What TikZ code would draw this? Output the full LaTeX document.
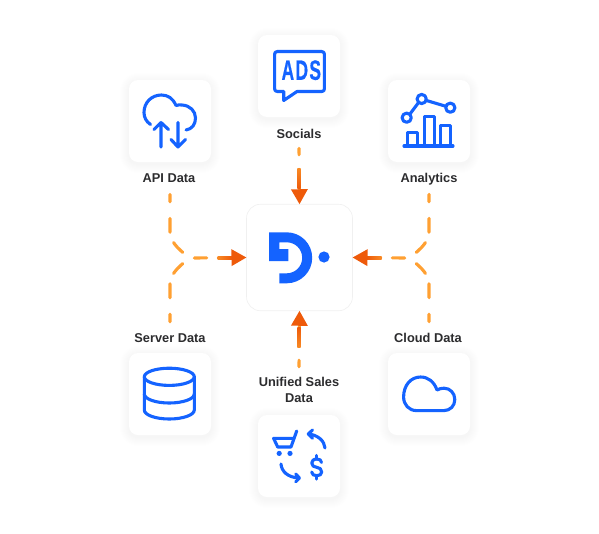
\documentclass[tikz,border=0pt]{standalone}
\usepackage{graphicx}
\usepackage{fontspec}
\setmainfont{Liberation Sans}
\newfontfamily\adsfont[FakeBold=0.6]{Liberation Sans Bold}
\usetikzlibrary{arrows.meta,calc}
\definecolor{iconblue}{HTML}{1463FF}
\definecolor{flowlight}{HTML}{FFA032}
\definecolor{flowmid}{HTML}{F88A24}
\definecolor{flowdark}{HTML}{EE5A0A}
\definecolor{labelink}{HTML}{2C2C2E}
\newcommand{\softshadow}[1]{%
  \foreach \r in {1,...,9}{%
    \fill[black,opacity=.0035,rounded corners=9pt+\r pt] ($(#1)+(-41-\r,-41-\r+2)$) rectangle ($(#1)+(41+\r,41+\r+2)$);
  }%
}
\tikzset{
  card/.style={fill=white,rounded corners=9pt,minimum width=82pt,minimum height=82pt,inner sep=0pt,outer sep=0pt},
  hubcard/.style={fill=white,draw=black!6,line width=.6pt,rounded corners=14pt,minimum width=106pt,minimum height=106.5pt,inner sep=0pt,outer sep=0pt},
  tag/.style={text=labelink,font=\fontsize{12.8}{16}\selectfont\bfseries,align=center,inner sep=0pt,anchor=base},
  icon/.style={draw=iconblue,line width=3.1pt,line cap=round,line join=round},
  flow/.style={draw=flowlight,line width=3.1pt,line cap=round},
  headtip/.style={-{Triangle[length=15pt,width=16pt,color=flowdark]}},
  branchdash/.style={dash pattern=on 7.5pt off 16.5pt on 14pt off 11pt on 13.5pt off 99pt},
}
\begin{document}
\begin{tikzpicture}[x=1pt,y=-1pt]
\useasboundingbox (0,0) rectangle (599,533);
\fill[white] (0,0) rectangle (599,533);
% positions
\coordinate (capi) at (170,121);
\coordinate (csoc) at (299,76);
\coordinate (cana) at (429,121);
\coordinate (csrv) at (170,394);
\coordinate (ccld) at (429,394);
\coordinate (cuni) at (299,456);
\softshadow{capi}\softshadow{csoc}\softshadow{cana}\softshadow{csrv}\softshadow{ccld}\softshadow{cuni}
% cards
\node[hubcard] (hub) at (299.5,257.5) {};
\node[card] (api) at (capi) {};
\node[card] (soc) at (csoc) {};
\node[card] (ana) at (cana) {};
\node[card] (srv) at (csrv) {};
\node[card] (cld) at (ccld) {};
\node[card] (uni) at (cuni) {};
% labels
\node[tag] (tapi) at (169,182) {API Data};
\node[tag] (tsoc) at (299,138) {Socials};
\node[tag] (tana) at (429,182) {Analytics};
\node[tag] (tsrv) at (170,342) {Server Data};
\node[tag] (tcld) at (428,342) {Cloud Data};
\node[tag,anchor=center] (tuni) at (299,390) {Unified Sales\\Data};
% connector anchors
\coordinate (s1) at (170,194.3);
\coordinate (s1b) at (170,232);
\coordinate (s2) at (170,321.7);
\coordinate (s2b) at (170,284);
\coordinate (j1) at (190,258);
\coordinate (h1) at (194.3,258);
\coordinate (s3) at (429,194.3);
\coordinate (s3b) at (429,232);
\coordinate (s4) at (429,321.7);
\coordinate (s4b) at (429,284);
\coordinate (j2) at (409,258);
\coordinate (h2) at (404.7,258);
\coordinate (s5) at (299,148.3);
\coordinate (s6) at (299,366.7);
% connectors
\draw[flow,branchdash] (s1) -- (s1b) .. controls (170,240) and (176,248) .. (j1);
\draw[flow,branchdash] (s2) -- (s2b) .. controls (170,276) and (176,268) .. (j1);
\draw[flow,branchdash] (s3) -- (s3b) .. controls (429,240) and (423,248) .. (j2);
\draw[flow,branchdash] (s4) -- (s4b) .. controls (429,276) and (423,268) .. (j2);
\draw[flow,headtip,dash pattern=on 12.5pt off 11.5pt on 60pt] (h1) -- (hub.west);
\draw[flow,headtip,dash pattern=on 12.5pt off 11.5pt on 60pt] (h2) -- (hub.east);
\draw[flow,headtip,dash pattern=on 6.5pt off 14.5pt on 60pt] (s5) -- (hub.north);
\draw[flow,headtip,dash pattern=on 6.5pt off 14.5pt on 60pt] (s6) -- (hub.south);
% gradient on the dashes nearest the heads
\shade[left color=flowmid,right color=flowdark] (217.5,256.45) rectangle (232,259.55);
\shade[right color=flowmid,left color=flowdark] (367,256.45) rectangle (381.5,259.55);
\shade[top color=flowmid,bottom color=flowdark] (297.45,168) rectangle (300.55,188.5);
\shade[bottom color=flowmid,top color=flowdark] (297.45,327) rectangle (300.55,347.5);
% centre logo
\fill[iconblue] (269,232.3) -- (286.7,232.3)
  .. controls (300.8,232.3) and (312.2,243.7) .. (312.2,257.8)
  .. controls (312.2,271.9) and (300.8,283.3) .. (286.7,283.3)
  -- (279.3,283.3) -- (279.3,273.3) -- (286.7,273.3)
  .. controls (295.3,273.3) and (302.2,266.4) .. (302.2,257.8)
  .. controls (302.2,249.2) and (295.3,242.3) .. (286.7,242.3)
  -- (279.3,242.3) -- (279.3,249) -- (288.3,249) -- (288.3,261) -- (269,261) -- cycle;
\fill[iconblue] (324,257) circle[radius=5.6pt];
% API icon
\draw[icon] (150.5,124.5) .. controls (146,121.5) and (144,117) .. (144,112.5)
  .. controls (144,102.5) and (151.5,95) .. (161.5,95)
  .. controls (168,95) and (173,98.5) .. (176,105.5)
  .. controls (178,105) and (180,104.5) .. (182,105)
  .. controls (190,105.5) and (195.5,111) .. (195.5,118)
  .. controls (195.5,124.5) and (192,129) .. (186,130);
\draw[icon] (161,147) -- (161,122.5) (154,129.5) -- (161,122.5) -- (168.5,129.5);
\draw[icon] (178,122.5) -- (178,147) (171,139.5) -- (178,147) -- (185.5,139.5);
% ADS icon
\draw[icon] (277.5,51.5) -- (321.5,51.5) .. controls (323.5,51.5) and (324.4,52.5) .. (324.4,54.3)
  -- (324.4,88.7) .. controls (324.4,90.7) and (323.5,91.5) .. (321.5,91.5)
  -- (297,91.5) -- (283.7,100.5) -- (283.7,91.5) -- (277.5,91.5)
  .. controls (275.5,91.5) and (274.6,90.7) .. (274.6,88.7)
  -- (274.6,54.3) .. controls (274.6,52.5) and (275.5,51.5) .. (277.5,51.5) -- cycle;
\node[text=iconblue,font=\fontsize{28}{28}\adsfont,inner sep=0pt] (adstxt) at (301.3,70.2) {\scalebox{.62}[1]{A\kern2.2pt D\kern2.2pt S}};
% Analytics icon
\draw[icon] (404,146) -- (453,146);
\draw[icon,line cap=butt] (407.5,146) -- (407.5,132.5) -- (417.2,132.5) -- (417.2,146);
\draw[icon,line cap=butt] (424.8,146) -- (424.8,116.5) -- (434.6,116.5) -- (434.6,146);
\draw[icon,line cap=butt] (440.8,146) -- (440.8,125.5) -- (450.6,125.5) -- (450.6,146);
\draw[icon] (406.7,117.7) circle[radius=4.6pt] (421.7,99) circle[radius=4.6pt] (450.3,107.7) circle[radius=4.6pt];
\draw[icon] (409.8,114.2) -- (418.6,102.5) (426.1,100.4) -- (445.9,106.3);
% Server icon
\draw[icon] (169.3,376.8) ellipse[x radius=25pt,y radius=8.6pt];
\draw[icon] (144.3,376.8) -- (144.3,410) .. controls (144.3,415) and (155.5,419) .. (169.3,419)
  .. controls (183,419) and (194.3,415) .. (194.3,410) -- (194.3,376.8);
\draw[icon] (144.3,394) .. controls (144.3,399) and (155.5,403) .. (169.3,403)
  .. controls (183,403) and (194.3,399) .. (194.3,394);
% Cloud icon
\draw[icon] (416.5,410.6) .. controls (409,410.6) and (403.6,404.8) .. (403.6,397)
  .. controls (403.6,385) and (411,377) .. (420.5,377)
  .. controls (428,377) and (434,381.5) .. (437,390)
  .. controls (439,388.8) and (441.5,388.2) .. (444,388.2)
  .. controls (450,388.2) and (454.8,393) .. (454.8,399.5)
  .. controls (454.8,406) and (450,410.6) .. (444,410.6) -- cycle;
% Unified sales icon
\draw[icon] (296.7,431) -- (291,447) -- (277.7,447) -- (273.6,438.3) -- (293.5,438.3);
\fill[iconblue] (279.2,453.4) circle[radius=2.6pt] (290,453.4) circle[radius=2.6pt];
\draw[icon] (325,448) .. controls (324.5,441) and (318,435) .. (308.5,434);
\draw[icon] (312.5,430) -- (308.3,434) -- (312.5,438.3);
\draw[icon] (281,464) .. controls (281.5,471.5) and (288,477.5) .. (299,478);
\draw[icon] (295.7,474) -- (299.5,478) -- (295.7,481.8);
\draw[icon] (321.5,462.5) .. controls (321.5,460) and (319.5,459) .. (316.7,459)
  .. controls (313.5,459) and (311.7,461) .. (311.7,463)
  .. controls (311.7,466) and (314,467) .. (316.7,467.3)
  .. controls (319.5,467.6) and (321.7,469) .. (321.7,472)
  .. controls (321.7,474.5) and (319.5,475.7) .. (316.7,475.7)
  .. controls (314,475.7) and (311.7,474.5) .. (311.7,472);
\draw[icon] (316.7,455.5) -- (316.7,459) (316.7,475.7) -- (316.7,479);
\end{tikzpicture}
\end{document}
